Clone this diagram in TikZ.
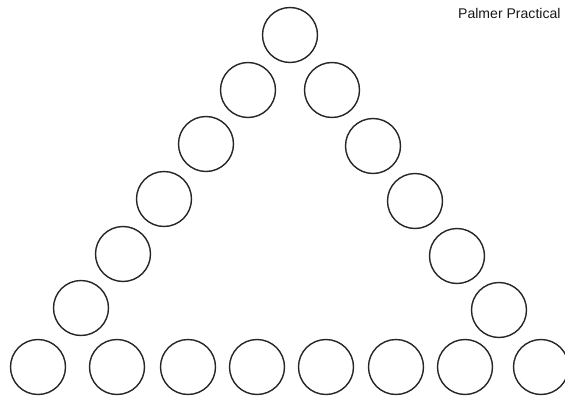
\documentclass[tikz,border=0pt]{standalone}
\usepackage{fontspec}
\setmainfont{Liberation Sans}
\usepackage{tikz}

\begin{document}
\begin{tikzpicture}[x=0.05cm, y=-0.05cm,
    ring/.style={circle, draw=black!85, line width=2pt, minimum size=2.75cm, inner sep=0pt},
    tag/.style={anchor=base east, font=\fontsize{20}{24}\selectfont, text=black!90}]
            \useasboundingbox (0,0) rectangle (565,400);
            % apex
            \node[ring] (top) at (290,35) {};
            % left side
            \node[ring] (l1) at (248,90) {};
            \node[ring] (l2) at (206,144) {};
            \node[ring] (l3) at (164,199) {};
            \node[ring] (l4) at (123,254) {};
            \node[ring] (l5) at (81,308) {};
            % right side
            \node[ring] (r1) at (332,90) {};
            \node[ring] (r2) at (373,146) {};
            \node[ring] (r3) at (415,201) {};
            \node[ring] (r4) at (457,256) {};
            \node[ring] (r5) at (499,310) {};
            % bottom row
            \node[ring] (b1) at (38,367) {};
            \node[ring] (b2) at (117,367) {};
            \node[ring] (b3) at (188,367) {};
            \node[ring] (b4) at (257,367) {};
            \node[ring] (b5) at (326,367) {};
            \node[ring] (b6) at (396,367) {};
            \node[ring] (b7) at (465,367) {};
            \node[ring] (b8) at (541,367) {};
            \node[tag] (title) at (563,18) {Palmer Practical};
        \end{tikzpicture}
\end{document}
